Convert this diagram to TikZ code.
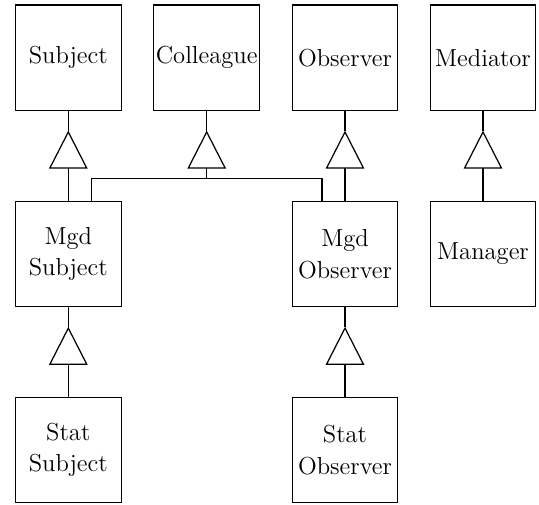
\documentclass[tikz,border=0pt]{standalone}
\usetikzlibrary{arrows.meta, positioning, calc}
\tikzset{
    classbox/.style={rectangle, draw, line width=0.7pt, minimum width=2.114cm, minimum height=2.114cm,
                     inner sep=0pt, align=center, font=\fontsize{14}{18}\selectfont},
    inherit/.style={-{Triangle[open, length=7.6mm, width=7.7mm, line width=0.7pt]}, line width=0.7pt},
    link/.style={line width=0.7pt},
}
\begin{document}
\begin{tikzpicture}
    \useasboundingbox (0,0) rectangle (10.78,-10.08);

    % ── Top row ────────────────────────────────────────────────────
    \node[classbox] (subj)  at (1.366, -1.157) {Subject};
    \node[classbox] (coll)  at (4.134, -1.157) {Colleague};
    \node[classbox] (obs)   at (6.900, -1.157) {Observer};
    \node[classbox] (med)   at (9.660, -1.157) {Mediator};

    % ── Middle row ─────────────────────────────────────────────────
    \node[classbox] (msubj) at (1.366, -5.080) {Mgd\\Subject};
    \node[classbox] (mobs)  at (6.900, -5.080) {Mgd\\Observer};
    \node[classbox] (mgr)   at (9.660, -5.080) {Manager};

    % ── Bottom row ─────────────────────────────────────────────────
    \node[classbox] (ssubj) at (1.366, -9.000) {Stat\\Subject};
    \node[classbox] (sobs)  at (6.900, -9.000) {Stat\\Observer};

    % ── Tips below the parents ─────────────────────────────────────
    \coordinate (tsubj) at ([yshift=-3.86mm]subj.south);
    \coordinate (tcoll) at ([yshift=-3.86mm]coll.south);
    \coordinate (tobs)  at ([yshift=-3.86mm]obs.south);
    \coordinate (tmed)  at ([yshift=-3.86mm]med.south);
    \coordinate (tmsubj) at ([yshift=-3.86mm]msubj.south);
    \coordinate (tmobs)  at ([yshift=-3.86mm]mobs.south);
    \coordinate (bus)   at (4.134, -3.566);

    % ── Inheritance ────────────────────────────────────────────────
    \draw[link]    (subj.south) -- (tsubj);
    \draw[inherit] (msubj.north) -- (tsubj);

    \draw[link]    (obs.south) -- (tobs);
    \draw[inherit] (mobs.north) -- (tobs);

    \draw[link]    (med.south) -- (tmed);
    \draw[inherit] (mgr.north) -- (tmed);

    \draw[link]    (msubj.south) -- (tmsubj);
    \draw[inherit] (ssubj.north) -- (tmsubj);

    \draw[link]    (mobs.south) -- (tmobs);
    \draw[inherit] (sobs.north) -- (tmobs);

    % Colleague bus
    \draw[link]    (coll.south) -- (tcoll);
    \draw[inherit] (bus) -- (tcoll);
    \draw[link]    ([xshift=4.6mm]msubj.north) |- (bus) -| ([xshift=-4.6mm]mobs.north);

\end{tikzpicture}
\end{document}
